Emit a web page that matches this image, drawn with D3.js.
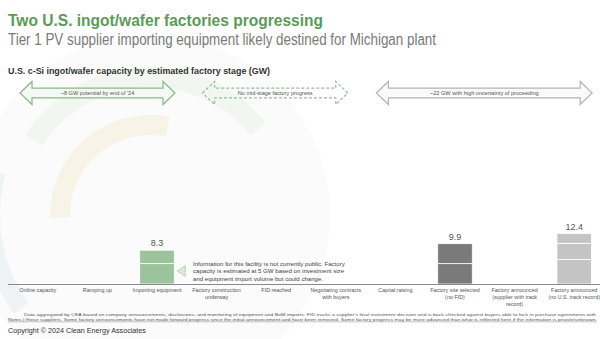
<!DOCTYPE html>
<html><head><meta charset="utf-8">
<script src="https://cdn.jsdelivr.net/npm/d3@7"></script>
<style>body{margin:0;background:#fff;}svg{display:block;font-family:"Liberation Sans",Arial,sans-serif;}</style>
</head><body><svg id="c" width="600" height="339"></svg>
<script>
const categories = ["Online capacity","Ramping up","Importing equipment","Factory construction|underway","FID reached","Negotiating contracts|with buyers","Capital raising","Factory site selected|(no FID)","Factory announced|(supplier with track|record)","Factory announced|(no U.S. track record)"];
const barCategories = ["Importing equipment","Factory site selected|(no FID)","Factory announced|(no U.S. track record)"];
const barTotals = [8.3, 9.9, 12.4];
const barSegments = [[5, 3.3], [5, 4.9], [6, 4, 2.4]];
const barColors = ["#9dc39c", "#7a7a7a", "#c4c4c4"];
const arrows = [
  {from: 0, to: 2, label: "~8 GW potential by end of '24", kind: "green"},
  {from: 3, to: 5, label: "No mid-stage factory progress", kind: "dashed"},
  {from: 6, to: 9, label: "~22 GW with high uncertainty of proceeding", kind: "gray"}
];
const annotationLines = ["Information for this facility is not currently public. Factory","capacity is estimated at 5 GW based on investment size","and equipment import volume but could change."];
const notesLines = ["Data aggregated by CEA based on company announcements, disclosures, and monitoring of equipment and BoM imports. FID tracks a supplier's final investment decision and is back-checked against buyers able to lock in purchase agreements with","Notes | these suppliers. Some factory announcements have not made forward progress since the initial announcement and have been removed. Some factory progress may be more advanced than what is reflected here if the information is private/unknown."];

const svg = d3.select("#c");

// faint watermark
const wm = svg.append("g").attr("fill","none");
const arc = d3.arc();
wm.append("path").attr("transform","translate(150,215)").attr("d",arc({innerRadius:0,outerRadius:180,startAngle:0,endAngle:6.283})).attr("fill","#eef1ee").attr("opacity",0.3);
wm.append("path").attr("transform","translate(150,215)").attr("d",arc({innerRadius:150,outerRadius:168,startAngle:-2.2,endAngle:-1.3})).attr("fill","#5b8fc7").attr("opacity",0.07);
wm.append("path").attr("transform","translate(150,215)").attr("d",arc({innerRadius:128,outerRadius:148,startAngle:-1.0,endAngle:0.9})).attr("fill","#7bb27a").attr("opacity",0.07);
wm.append("path").attr("transform","translate(150,215)").attr("d",arc({innerRadius:80,outerRadius:100,startAngle:-1.6,endAngle:0.2})).attr("fill","#f0b040").attr("opacity",0.1);

// titles
svg.append("text").attr("x",8).attr("y",26).attr("font-size",17).attr("font-weight","bold").attr("fill","#5c9a5a")
  .attr("textLength",315).attr("lengthAdjust","spacingAndGlyphs").text("Two U.S. ingot/wafer factories progressing");
svg.append("text").attr("x",8).attr("y",45).attr("font-size",16).attr("fill","#7a7a7a")
  .attr("textLength",428).attr("lengthAdjust","spacingAndGlyphs").text("Tier 1 PV supplier importing equipment likely destined for Michigan plant");
svg.append("text").attr("x",8).attr("y",74).attr("font-size",9).attr("font-weight","bold").attr("fill","#333")
  .attr("textLength",262).attr("lengthAdjust","spacingAndGlyphs").text("U.S. c-Si ingot/wafer capacity by estimated factory stage (GW)");

// scales
const x = d3.scaleBand().domain(categories).range([8, 604]).paddingInner(0.42).paddingOuter(0.21);
const y = d3.scaleLinear().domain([0, 12.4]).range([284, 233.5]);

// arrows
const ay = 93, bodyH = 4.8, headH = 11.5, headL = 12;
arrows.forEach(a => {
  const x0 = x(categories[a.from]) + x.bandwidth()/2 - 18;
  const x1 = x(categories[a.to]) + x.bandwidth()/2 + 18;
  let left = x0, right = x1;
  if (a.kind === "dashed") { left = x0 + 4; right = x1 - 6; }
  if (a.kind === "gray") { left = x0 - 1; right = Math.min(x1, 593); }
  if (a.kind === "green") { left = 20; right = 175; }
  const pts = [[left,ay],[left+headL,ay-headH],[left+headL,ay-bodyH],[right-headL,ay-bodyH],[right-headL,ay-headH],[right,ay],[right-headL,ay+headH],[right-headL,ay+bodyH],[left+headL,ay+bodyH],[left+headL,ay+headH]];
  const p = svg.append("polygon").attr("points",pts.map(d=>d.join(",")).join(" "))
    .attr("fill", a.kind==="green" ? "#f4f9f3" : "#fafafa")
    .attr("stroke", a.kind==="green" ? "#8ab889" : a.kind==="dashed" ? "#9aba99" : "#b4b4b4")
    .attr("stroke-width", 1.2);
  if (a.kind === "dashed") p.attr("stroke-dasharray","3,2").attr("fill","none");
  svg.append("text").attr("x",(left+right)/2).attr("y",ay+1.5).attr("text-anchor","middle").attr("font-size",5.6).attr("fill","#555").text(a.label);
});

// bars
barCategories.forEach((c, i) => {
  const g = svg.append("g");
  let acc = 0;
  barSegments[i].forEach(v => {
    g.append("rect").attr("x", x(c)).attr("width", x.bandwidth())
      .attr("y", y(acc + v)).attr("height", y(acc) - y(acc + v))
      .attr("fill", barColors[i]).attr("stroke","#fff").attr("stroke-width",0.8);
    acc += v;
  });
  svg.append("text").attr("x", x(c) + x.bandwidth()/2).attr("y", y(barTotals[i]) - 4)
    .attr("text-anchor","middle").attr("font-size",9).attr("fill","#555").text(barTotals[i].toFixed(1));
});

// axis line
svg.append("line").attr("x1",8).attr("x2",600).attr("y1",284.5).attr("y2",284.5).attr("stroke","#8a8a8a").attr("stroke-width",1.2);

// category labels
categories.forEach(c => {
  const t = svg.append("text").attr("text-anchor","middle").attr("font-size",5.4).attr("fill","#555");
  c.split("|").forEach((line, k) => {
    t.append("tspan").attr("x", x(c) + x.bandwidth()/2).attr("y", 292 + k*7).text(line);
  });
});

// annotation pointer and text
const ax = x("Importing equipment") + x.bandwidth() + 3;
svg.append("polygon").attr("points",[[ax,271],[ax+8,265.5],[ax+8,276.5]].map(d=>d.join(",")).join(" "))
  .attr("fill","#dcebd9").attr("stroke","#8ab889").attr("stroke-width",0.8).attr("stroke-dasharray","1.5,1");
annotationLines.forEach((l,k)=>{
  svg.append("text").attr("x",193).attr("y",265.5 + k*7.5).attr("font-size",6.1).attr("fill","#444").text(l);
});

// notes
svg.append("text").attr("x",24).attr("y",315.5).attr("font-size",4.4).attr("fill","#555")
  .attr("textLength",572).attr("lengthAdjust","spacingAndGlyphs").text(notesLines[0]);
svg.append("text").attr("x",8).attr("y",320.5).attr("font-size",4.4).attr("fill","#555")
  .attr("textLength",589).attr("lengthAdjust","spacingAndGlyphs").text(notesLines[1]);
svg.append("line").attr("x1",8).attr("x2",597).attr("y1",321.8).attr("y2",321.8).attr("stroke","#888").attr("stroke-width",0.5);

svg.append("text").attr("x",8).attr("y",333).attr("font-size",7.2).attr("fill","#333").text("Copyright © 2024 Clean Energy Associates");
</script></body></html>
